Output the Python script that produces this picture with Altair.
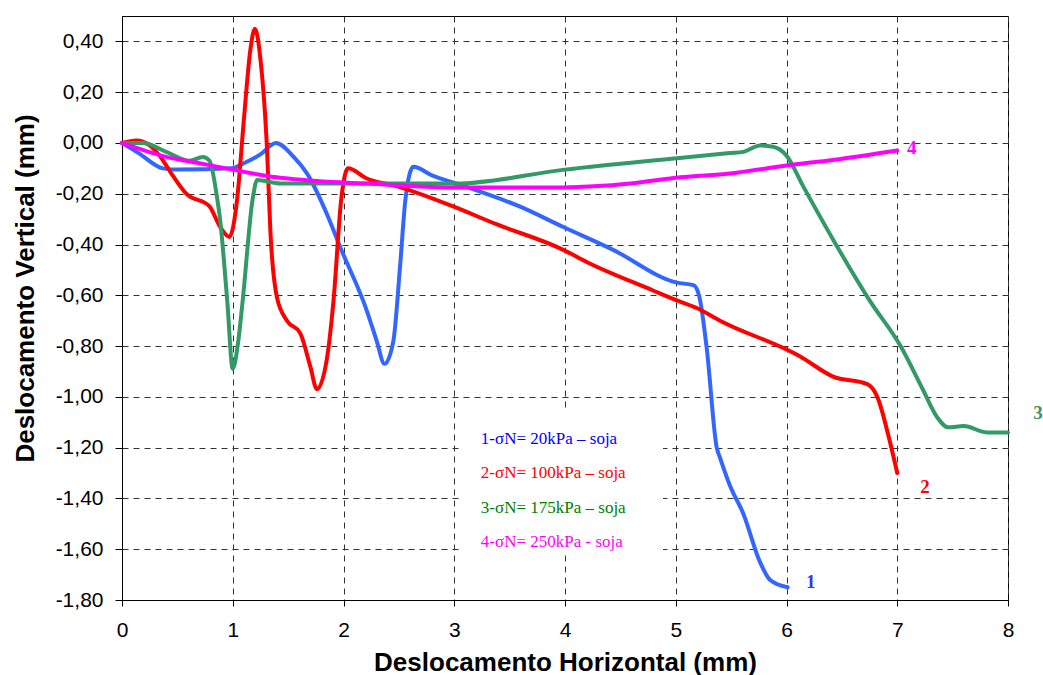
import altair as alt
import pandas as pd

# ---- data ----
s1_x = [0, 0.15, 0.37, 0.5, 0.99, 1.1, 1.25, 1.39, 1.55, 1.67, 1.85, 1.97, 2.21, 2.30, 2.37, 2.45, 2.51, 2.56, 2.63, 2.81, 3.02, 3.59, 3.98, 4.43, 5.01, 5.16, 5.21, 5.28, 5.37, 5.40, 5.49, 5.61, 5.76, 5.85, 6.01]
s1_y = [0, -0.04, -0.10, -0.105, -0.10, -0.08, -0.045, 0.00, -0.055, -0.12, -0.28, -0.41, -0.66, -0.78, -0.87, -0.78, -0.49, -0.22, -0.094, -0.13, -0.16, -0.25, -0.33, -0.42, -0.55, -0.56, -0.60, -0.81, -1.20, -1.24, -1.35, -1.46, -1.65, -1.72, -1.75]

s2_x = [0, 0.13, 0.25, 0.34, 0.46, 0.58, 0.79, 0.885, 0.97, 1.04, 1.10, 1.16, 1.20, 1.25, 1.31, 1.34, 1.40, 1.49, 1.61, 1.70, 1.76, 1.85, 1.91, 1.98, 2.04, 2.21, 2.48, 2.99, 3.38, 3.98, 4.20, 4.79, 5.01, 5.19, 5.40, 6.12, 6.42, 6.73, 6.82, 6.93, 7.0]
s2_y = [0, 0.01, -0.01, -0.05, -0.13, -0.20, -0.25, -0.33, -0.37, -0.22, 0.09, 0.37, 0.45, 0.33, -0.03, -0.35, -0.61, -0.70, -0.75, -0.88, -0.97, -0.85, -0.62, -0.22, -0.10, -0.14, -0.17, -0.25, -0.32, -0.42, -0.47, -0.58, -0.62, -0.65, -0.70, -0.84, -0.92, -0.95, -1.00, -1.17, -1.30]

s3_x = [0, 0.19, 0.40, 0.61, 0.73, 0.79, 0.86, 0.88, 0.95, 1.0, 1.05, 1.09, 1.18, 1.22, 1.43, 3.02, 3.98, 5.01, 5.49, 5.61, 5.76, 5.88, 6.0, 6.15, 6.42, 6.75, 7.03, 7.23, 7.36, 7.46, 7.60, 7.81, 8.0]
s3_y = [0, 0.0, -0.035, -0.07, -0.055, -0.07, -0.22, -0.28, -0.62, -0.89, -0.78, -0.62, -0.22, -0.146, -0.16, -0.16, -0.106, -0.06, -0.04, -0.035, -0.01, -0.015, -0.05, -0.17, -0.38, -0.62, -0.80, -0.97, -1.08, -1.12, -1.115, -1.14, -1.14]

s4_x = [0, 0.40, 0.70, 1.0, 1.31, 1.76, 2.21, 2.96, 3.98, 4.59, 5.04, 5.49, 6.03, 6.42, 7.0]
s4_y = [0, -0.055, -0.08, -0.105, -0.13, -0.15, -0.16, -0.175, -0.175, -0.16, -0.135, -0.12, -0.087, -0.067, -0.03]

series_names = ["1", "2", "3", "4"]
line_colors = ["#3366FF", "#FF0000", "#339966", "#FF00FF"]

legend_texts = ["1-σN= 20kPa – soja", "2-σN= 100kPa – soja", "3-σN= 175kPa – soja", "4-σN= 250kPa - soja"]
legend_colors = ["#0000FF", "#FF0000", "#008000", "#FF00FF"]
legend_x = [3.24, 3.24, 3.24, 3.24]
legend_y = [-1.165, -1.299, -1.437, -1.571]

end_labels = ["1", "2", "3", "4"]
end_x = [6.22, 7.25, 8.27, 7.13]
end_y = [-1.728, -1.354, -1.063, -0.02]
end_colors = ["#3333FF", "#FF0000", "#339966", "#FF00FF"]

box_x = [3.05]
box_x2 = [4.885]
box_y = [-1.05]
box_y2 = [-1.62]

x_ticks = [0, 1, 2, 3, 4, 5, 6, 7, 8]
y_ticks = [round(-1.8 + 0.2 * i, 1) for i in range(12)]

# ---- build tables ----
rows = []
for name, xs, ys in zip(series_names, [s1_x, s2_x, s3_x, s4_x], [s1_y, s2_y, s3_y, s4_y]):
    for i, (a, b) in enumerate(zip(xs, ys)):
        rows.append({"serie": name, "x": a, "y": b, "i": i})
lines_df = pd.DataFrame(rows)

leg_df = pd.DataFrame({"t": legend_texts, "c": legend_colors, "x": legend_x, "y": legend_y})
end_df = pd.DataFrame({"t": end_labels, "c": end_colors, "x": end_x, "y": end_y})
box_df = pd.DataFrame({"x": box_x, "x2": box_x2, "y": box_y, "y2": box_y2})

W, H = 886, 584

xscale = alt.Scale(domain=[0, 8], nice=False, zero=False)
yscale = alt.Scale(domain=[-1.8, 0.5], nice=False, zero=False)

x_axis = alt.Axis(
    values=x_ticks, format="d", title="Deslocamento Horizontal (mm)", grid=True,
    gridDash=[6, 5], gridColor="#333333", gridWidth=1,
    domainColor="black", tickColor="black", tickSize=6, labelFlush=False,
    labelFont="Liberation Sans", labelFontSize=21, labelColor="black", labelPadding=13,
    titleFont="Liberation Sans", titleFontSize=26, titleFontWeight="bold", titleColor="black",
    titleX=443, titleY=62, titleBaseline="middle", titleAlign="center",
)
y_axis = alt.Axis(
    values=y_ticks, title="Deslocamento Vertical (mm)", grid=True,
    gridDash=[6, 5], gridColor="#333333", gridWidth=1,
    domainColor="black", tickColor="black", tickSize=7, labelFlush=False,
    labelExpr="(datum.value < -0.001 ? '-' : '') + replace(format(abs(datum.value), '.2f'), '.', ',')",
    labelFont="Liberation Sans", labelFontSize=21, labelColor="black", labelPadding=12,
    titleFont="Liberation Sans", titleFontSize=26, titleFontWeight="bold", titleColor="black",
    titleX=-97, titleY=272, titleBaseline="middle", titleAlign="center", titleAngle=270,
)

box = alt.Chart(box_df).mark_rect(fill="white", stroke=None).encode(
    x=alt.X("x:Q", scale=xscale, axis=x_axis),
    x2="x2:Q",
    y=alt.Y("y:Q", scale=yscale, axis=y_axis),
    y2="y2:Q",
)

lines = alt.Chart(lines_df).mark_line(strokeWidth=4, interpolate="monotone", strokeCap="round", strokeJoin="round").encode(
    x=alt.X("x:Q", scale=xscale),
    y=alt.Y("y:Q", scale=yscale),
    color=alt.Color("serie:N", scale=alt.Scale(domain=series_names, range=line_colors), legend=None),
    order="i:Q",
)

legend = alt.Chart(leg_df).mark_text(
    align="left", baseline="middle", font="Liberation Serif", fontSize=17
).encode(
    x=alt.X("x:Q", scale=xscale),
    y=alt.Y("y:Q", scale=yscale),
    text="t:N",
    color=alt.Color("c:N", scale=None),
)

ends = alt.Chart(end_df).mark_text(
    align="center", baseline="middle", font="Liberation Serif", fontSize=19, fontWeight="bold"
).encode(
    x=alt.X("x:Q", scale=xscale),
    y=alt.Y("y:Q", scale=yscale),
    text="t:N",
    color=alt.Color("c:N", scale=None),
)

chart = alt.layer(box, lines, legend, ends).properties(
    width=W, height=H,
    autosize=alt.AutoSizeParams(type="none"),
    padding={"left": 122, "top": 16, "right": 35, "bottom": 75},
    background="white",
).configure_view(stroke="black", strokeWidth=1)

chart.save("out.html", embed_options={"renderer": "svg", "actions": False})
